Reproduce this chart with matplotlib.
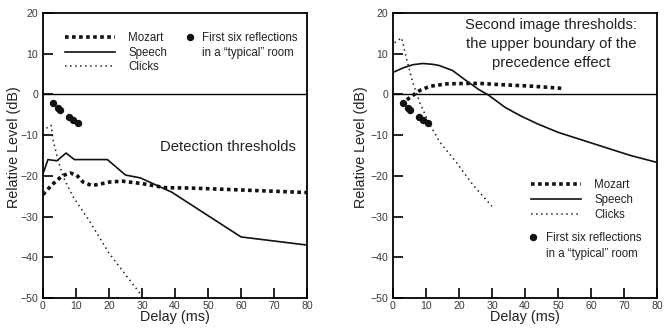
import matplotlib
matplotlib.use("Agg")
import matplotlib.pyplot as plt
from matplotlib.lines import Line2D

plt.rcParams['font.family'] = ['Liberation Sans', 'DejaVu Sans']

# ---------------- data ----------------
refl_x = [2.9, 4.5, 5.3, 7.9, 9.0, 10.5]
refl_y = [-2.2, -3.4, -3.9, -5.6, -6.3, -7.1]

# Detection thresholds (left)
det_mozart_x = [0, 2.7, 5.8, 8.2, 10.2, 12.1, 14.8, 17.3, 20.3, 24, 30, 37, 45, 58, 80]
det_mozart_y = [-24.6, -22.2, -20.0, -19.3, -19.8, -21.5, -22.4, -22.0, -21.5, -21.3, -21.9, -22.9, -23.0, -23.4, -24.1]
det_speech_x = [0, 1.5, 4.2, 7.0, 9.5, 19.5, 25, 29.5, 39, 60, 80]
det_speech_y = [-19.5, -16.0, -16.3, -14.4, -16.0, -16.0, -19.8, -20.5, -24.0, -35.0, -37.0]
det_clicks_x = [1.0, 2.5, 3.0, 4.5, 6.0, 9.0, 14.0, 20.0, 30.0]
det_clicks_y = [-8.3, -7.6, -11.0, -16.0, -20.0, -25.0, -31.0, -39.0, -49.5]

# Second image thresholds (right)
sec_mozart_x = [4.2, 6.1, 8.2, 11.2, 16.3, 22.4, 26.4, 32.7, 42.7, 51]
sec_mozart_y = [-1.3, -0.2, 1.0, 2.0, 2.6, 2.7, 2.7, 2.4, 2.0, 1.5]
sec_speech_x = [0, 3, 6, 9, 12, 14, 18, 22, 26, 29, 34, 39, 44, 50, 55, 65, 72, 80]
sec_speech_y = [5.4, 6.5, 7.3, 7.6, 7.4, 7.1, 5.9, 3.5, 1.2, -0.2, -3.2, -5.4, -7.3, -9.3, -10.6, -13.2, -15.0, -16.7]
sec_clicks_x = [0.5, 2.6, 4.1, 6.0, 8.2, 11.2, 14.2, 19.4, 24.2, 30.0]
sec_clicks_y = [12.7, 13.9, 8.8, 2.9, -2.2, -7.5, -11.7, -16.9, -22.2, -27.5]

xticks = [0, 10, 20, 30, 40, 50, 60, 70, 80]
yticks = [-50, -40, -30, -20, -10, 0, 10, 20]

labels = ["Mozart", "Speech", "Clicks"]
refl_label1 = "First six reflections"
refl_label2 = "in a \u201ctypical\u201d room"

# ---------------- figure ----------------
fig = plt.figure(figsize=(6.68, 3.29), dpi=100)
W, H = 668, 329
axL = fig.add_axes([43 / W, 1 - 298 / H, 264 / W, 285 / H])
axR = fig.add_axes([393 / W, 1 - 298 / H, 264 / W, 285 / H])

FS_TICK = 7.6
FS_LAB = 10.4
FS_LEG = 8.3
FS_TITLE = 10.7

def style(ax, label_x):
    ax.set_xlim(0, 80)
    ax.set_ylim(-50, 20)
    ax.set_xticks(xticks)
    ax.set_yticks(yticks)
    ax.tick_params(direction='in', length=7.2, width=1.2, labelsize=FS_TICK,
                   labelcolor='#3a3a3a', color='black')
    ax.tick_params(axis='y', pad=3.6)
    ax.tick_params(axis='x', pad=2.2)
    for s in ax.spines.values():
        s.set_linewidth(1.3)
    ax.axhline(0, color='black', lw=1.0, zorder=1)
    ax.set_xlabel("Delay (ms)", fontsize=FS_LAB, color='#222222')
    ax.set_ylabel("Relative Level (dB)", fontsize=FS_LAB, color='#222222')
    ax.xaxis.set_label_coords(0.5, -0.042)
    ax.yaxis.set_label_coords(label_x, 0.53)

def draw(ax, mx, my, sx, sy, cx, cy):
    lm, = ax.plot(mx, my, color='#111111', lw=2.6, dashes=(1, 0.95),
                  dash_capstyle='butt', zorder=3)
    ls, = ax.plot(sx, sy, color='#111111', lw=1.2, zorder=3)
    lc, = ax.plot(cx, cy, color='#222222', lw=1.1, dashes=(1, 2.3), zorder=3)
    ld, = ax.plot(refl_x, refl_y, 'o', color='#111111', ms=4.3, zorder=4,
                  linestyle='none')
    return lm, ls, lc, ld

for ax, lx in ((axL, -0.083), (axR, -0.095)):
    style(ax, lx)

hL = draw(axL, det_mozart_x, det_mozart_y, det_speech_x, det_speech_y,
          det_clicks_x, det_clicks_y)
hR = draw(axR, sec_mozart_x, sec_mozart_y, sec_speech_x, sec_speech_y,
          sec_clicks_x, sec_clicks_y)

blank = Line2D([], [], linestyle='none', marker=None)

def legends(ax, h, lines_xy, dots_xy, dot_pad):
    lg1 = ax.legend(h[:3], labels, loc='upper left', bbox_to_anchor=lines_xy,
                    frameon=False, fontsize=FS_LEG, handlelength=4.34,
                    handletextpad=1.15, labelspacing=0.24, borderpad=0,
                    borderaxespad=0)
    for t in lg1.get_texts():
        t.set_color('#222222')
    ax.add_artist(lg1)
    lg2 = ax.legend([h[3], blank], [refl_label1, refl_label2], loc='upper left',
                    bbox_to_anchor=dots_xy, frameon=False, fontsize=FS_LEG,
                    handlelength=1.0, handletextpad=dot_pad, labelspacing=0.3,
                    borderpad=0, borderaxespad=0)
    for t in lg2.get_texts():
        t.set_color('#222222')

legends(axL, hL, (0.083, 0.934), (0.535, 0.934), 0.54)
legends(axR, hR, (0.523, 0.416), (0.508, 0.231), 0.63)

axL.text(0.699, 0.530, "Detection thresholds", transform=axL.transAxes,
         ha='center', va='center', fontsize=FS_TITLE, color='#222222')
axR.text(0.598, 0.891, "Second image thresholds:\nthe upper boundary of the\nprecedence effect",
         transform=axR.transAxes, ha='center', va='center', fontsize=FS_TITLE,
         color='#222222', linespacing=1.47, multialignment='center')

fig.savefig("out.png", dpi=100)
